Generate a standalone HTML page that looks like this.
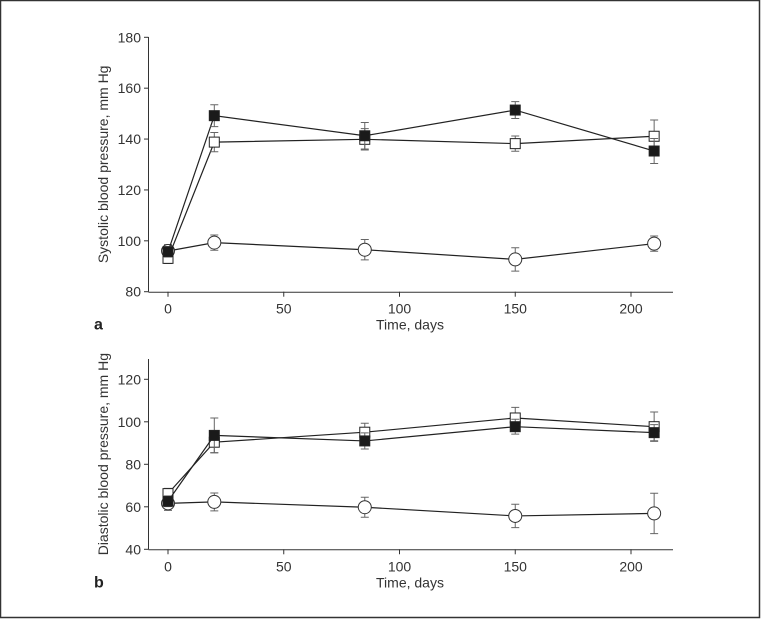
<!DOCTYPE html>
<html><head><meta charset="utf-8"><style>
html,body{margin:0;padding:0;background:#fff;}
svg{display:block;font-family:"Liberation Sans",sans-serif;}
</style></head><body>
<svg id="fig" width="761" height="619" viewBox="0 0 761 619">
<rect x="0.5" y="0.5" width="759" height="617" fill="#fff" stroke="#333" stroke-width="1.5"/>
</svg>
<script>
const days = [0, 20, 85, 150, 210];
const xTicks = [0, 50, 100, 150, 200];
const sysFilled = [95.7, 149.2, 141.3, 151.4, 135.3];
const sysFilledErr = [2, 4.3, 5.2, 3.3, 4.9];
const sysOpen = [93.1, 138.8, 139.9, 138.2, 141.1];
const sysOpenErr = [2, 3.8, 4.2, 3, 6.4];
const sysCircle = [96, 99.3, 96.5, 92.7, 98.9];
const sysCircleErr = [2.5, 3, 4, 4.6, 3];
const sysTicks = [80, 100, 120, 140, 160, 180];
const diaFilled = [62.6, 93.6, 91, 97.7, 94.9];
const diaFilledErr = [2.5, 8.2, 3.8, 3.5, 3.8];
const diaOpen = [66.2, 90.4, 95.1, 101.8, 97.7];
const diaOpenErr = [2.5, 4.9, 4.2, 5, 6.9];
const diaCircle = [61.6, 62.3, 59.8, 55.7, 56.9];
const diaCircleErr = [3.3, 4.2, 4.7, 5.5, 9.5];
const diaTicks = [40, 60, 80, 100, 120];

const NS = "http://www.w3.org/2000/svg";
const svg = document.getElementById('fig');
function mk(tag, attrs, parent) {
  const e = document.createElementNS(NS, tag);
  for (const k in attrs) e.setAttribute(k, attrs[k]);
  (parent || svg).appendChild(e);
  return e;
}
const xS = d => 168 + d * 2.315;

function panel(opt) {
  const g = mk('g', {});
  
  
  const yS = v => opt.y0 - (v - opt.vmin) * opt.ppu;
  // axes
  const ya = mk('line', {x1:148.5, x2:148.5, y1:opt.top, y2:opt.y0, stroke:'#333', 'stroke-width':1}, g);
  
  
  const xa = mk('line', {x1:148.5, x2:673, y1:opt.y0+0.5, y2:opt.y0+0.5, stroke:'#333', 'stroke-width':1}, g);
  
  
  opt.yTicks.forEach(t => {
    const y = yS(t);
    mk('line', {x1:144, x2:148.5, y1:y, y2:y, stroke:'#333'}, g);
    const tx = mk('text', {x:141, y:y+5, 'text-anchor':'end', 'font-size':14, fill:'#333'}, g);
    tx.textContent = t;
    
    
  });
  xTicks.forEach(t => {
    const x = xS(t);
    mk('line', {x1:x, x2:x, y1:opt.y0, y2:opt.y0+5, stroke:'#333'}, g);
    const tx = mk('text', {x:x, y:opt.y0+22, 'text-anchor':'middle', 'font-size':14, fill:'#333'}, g);
    tx.textContent = t;
    
    
  });
  const xt = mk('text', {x:410, y:opt.y0+38, 'text-anchor':'middle', 'font-size':14, fill:'#333'}, g);
  xt.textContent = 'Time, days';
  
  
  const cy = (opt.top + opt.y0) / 2;
  const yt = mk('text', {x:0, y:0, transform:`translate(108,${cy}) rotate(-90)`, 'text-anchor':'middle', 'font-size':14, fill:'#333'}, g);
  yt.textContent = opt.ytitle;
  
  
  const pl = mk('text', {x:94, y:opt.y0+38, 'font-size':16, 'font-weight':'bold', fill:'#222'}, g);
  pl.textContent = opt.label;
  
  

  opt.series.forEach(s => {
    const sg = mk('g', {}, g);
    
    
    const pts = days.map((d, i) => xS(d) + ',' + yS(s.vals[i])).join(' ');
    mk('polyline', {points:pts, fill:'none', stroke:'#222', 'stroke-width':1.2}, sg);
    days.forEach((d, i) => {
      const x = xS(d), y = yS(s.vals[i]), e = s.err[i] * opt.ppu;
      const eb = mk('path', {d:`M${x},${y-e}V${y+e}M${x-4},${y-e}H${x+4}M${x-4},${y+e}H${x+4}`, stroke:'#666', 'stroke-width':1, fill:'none'}, sg);
      
      
      let m;
      if (s.type === 'circle') m = mk('circle', {cx:x, cy:y, r:6.5, fill:'#fff', stroke:'#333', 'stroke-width':1}, sg);
      else m = mk('rect', {x:x-5, y:y-5, width:10, height:10, fill:s.type === 'filled' ? '#1a1a1a' : '#fff', stroke:'#222', 'stroke-width':1}, sg);
      
      
    });
  });
}

panel({name:'systolic-chart', label:'a', top:37, y0:291.7, vmin:80, ppu:2.544, yTicks:sysTicks,
  ytitle:'Systolic blood pressure, mm Hg',
  series:[
    {name:'series-open-circle', type:'circle', vals:sysCircle, err:sysCircleErr},
    {name:'series-open-square', type:'open', vals:sysOpen, err:sysOpenErr},
    {name:'series-filled-square', type:'filled', vals:sysFilled, err:sysFilledErr}
  ]});
panel({name:'diastolic-chart', label:'b', top:359, y0:549.3, vmin:40, ppu:2.125, yTicks:diaTicks,
  ytitle:'Diastolic blood pressure, mm Hg',
  series:[
    {name:'series-open-circle', type:'circle', vals:diaCircle, err:diaCircleErr},
    {name:'series-open-square', type:'open', vals:diaOpen, err:diaOpenErr},
    {name:'series-filled-square', type:'filled', vals:diaFilled, err:diaFilledErr}
  ]});
</script>
</body></html>
